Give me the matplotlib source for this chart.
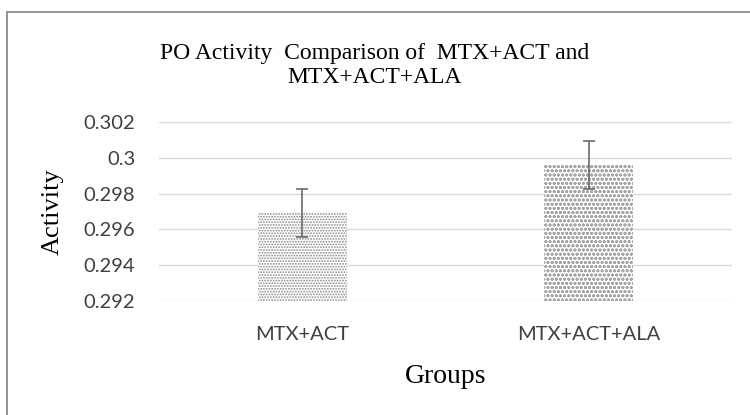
import matplotlib.pyplot as plt
from matplotlib.patches import Rectangle

groups = ["MTX+ACT", "MTX+ACT+ALA"]
activity = [0.2969, 0.2996]
errors = [0.00135, 0.00134]
yticks = [0.292, 0.294, 0.296, 0.298, 0.3, 0.302]
ytick_labels = ["0.292", "0.294", "0.296", "0.298", "0.3", "0.302"]
hatches = ["......", "oooo"]
hatch_colors = ["#8c8c8c", "#a6a6a6"]

plt.rcParams["hatch.linewidth"] = 0.9

fig = plt.figure(figsize=(7.5, 4.15), dpi=100)
ax = fig.add_axes([0.212, 0.2747, 0.764, 0.4313])

# outer chart frame (only left/top visible in the crop)
fig.patches.append(Rectangle((7 / 750, -0.1), 1.2, 1 - 12 / 415 + 0.1,
                             transform=fig.transFigure, fill=False,
                             edgecolor="#808080", linewidth=1.2))

x = range(len(groups))
bars = ax.bar(x, [a - yticks[0] for a in activity], bottom=yticks[0], width=0.31,
              color="white", linewidth=0, zorder=2)
for b, h, c in zip(bars, hatches, hatch_colors):
    b.set_hatch(h)
    b.set_edgecolor(c)
ax.errorbar(x, activity, yerr=errors, fmt="none", ecolor="#6b6b6b",
            elinewidth=1.2, capsize=4.3, capthick=1.2, zorder=3)

ax.set_ylim(yticks[0], yticks[-1])
ax.set_xlim(-0.5, 1.5)
ax.set_yticks(yticks)
ax.set_yticklabels(ytick_labels, fontfamily="Lato", fontsize=14.5, color="#404040")
ax.set_xticks(list(x))
ax.set_xticklabels(groups, fontfamily="Lato", fontsize=14.5, color="#404040")
ax.tick_params(axis="y", length=0, pad=17)
ax.tick_params(axis="x", length=0, pad=18)
ax.yaxis.grid(True, color="#d9d9d9", linewidth=1)
ax.set_axisbelow(True)
for s in ax.spines.values():
    s.set_visible(False)

ax.set_ylabel("Activity", fontfamily="Liberation Serif", fontsize=19, labelpad=14)
ax.set_xlabel("Groups", fontfamily="Liberation Serif", fontsize=20, labelpad=15)
fig.text(0.5, 0.842, "PO Activity  Comparison of  MTX+ACT and\nMTX+ACT+ALA",
         ha="center", va="center", fontfamily="Liberation Serif", fontsize=17,
         linespacing=1.15)

fig.savefig("out.png", dpi=100)
